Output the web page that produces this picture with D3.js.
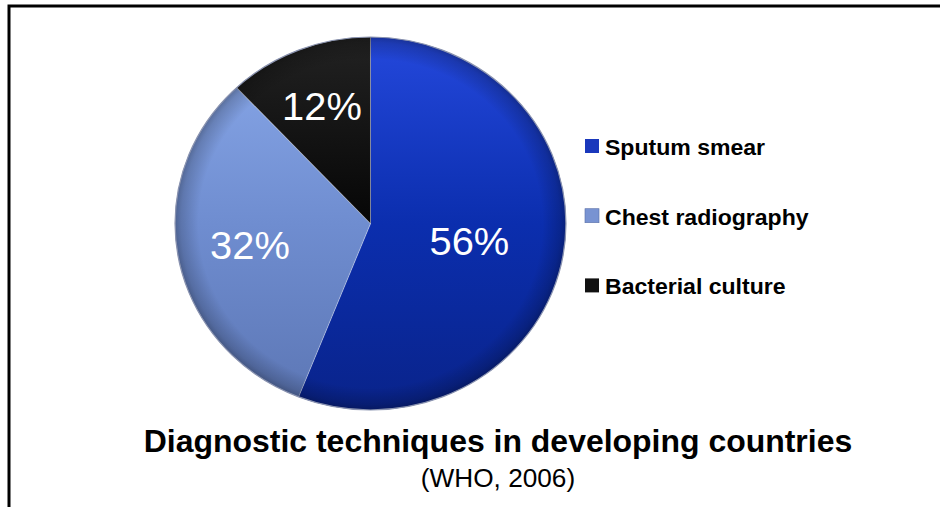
<!DOCTYPE html>
<html>
<head>
<meta charset="utf-8">
<script src="https://cdn.jsdelivr.net/npm/d3@7"></script>
<style>
  html, body { margin: 0; padding: 0; background: #fff; }
  svg { display: block; font-family: "Liberation Sans", Arial, sans-serif; }
</style>
</head>
<body>
<svg id="chart" width="940" height="507"></svg>
<script>
// ---- data ----
const categories = ["Sputum smear", "Chest radiography", "Bacterial culture"];
const legendLabels = ["Sputum smear", "Chest radiography", "Bacterial culture"];
const values = [56, 32, 12];
const valueLabels = ["56%", "32%", "12%"];
const titleText = "Diagnostic techniques in developing countries";
const subtitleText = "(WHO, 2006)";

// ---- layout / style ----
const W = 940, H = 507;
const SX = 1.048;               // horizontal stretch of the original picture
const cx = 370.5 / SX, cy = 223.5, R = 186.5;
const labelRadius = [0.515, 0.628, 0.675];
const gradStops = [
  ["#2448dc", "#0b2eae", "#09238a"],
  ["#8aa9ea", "#6f8dd0", "#5c76b4"],
  ["#222222", "#060606", "#000000"]
];
const legendColors = ["#1a38bc", "#7893d2", "#111111"];

const svg = d3.select("#chart");
const defs = svg.append("defs");

gradStops.forEach((st, i) => {
  const g = defs.append("linearGradient")
    .attr("id", "g" + i)
    .attr("gradientUnits", "userSpaceOnUse")
    .attr("x1", 0).attr("x2", 0)
    .attr("y1", -R).attr("y2", R);
  g.append("stop").attr("offset", 0).attr("stop-color", st[0]);
  g.append("stop").attr("offset", 0.5).attr("stop-color", st[1]);
  g.append("stop").attr("offset", 1).attr("stop-color", st[2]);
});
const rg = defs.append("radialGradient").attr("id", "rim");
rg.append("stop").attr("offset", 0.88).attr("stop-color", "#000").attr("stop-opacity", 0);
rg.append("stop").attr("offset", 0.97).attr("stop-color", "#000").attr("stop-opacity", 0.18);
rg.append("stop").attr("offset", 1).attr("stop-color", "#000").attr("stop-opacity", 0.3);

// border (top and left only)
svg.append("path")
  .attr("d", `M9,${H} V6 H${W}`)
  .attr("fill", "none")
  .attr("stroke", "#000")
  .attr("stroke-width", 3);

const root = svg.append("g").attr("transform", `scale(${SX},1)`);

// ---- pie ----
const pie = d3.pie().sort(null).value(d => d);
const arcs = pie(values);
const arc = d3.arc().innerRadius(0).outerRadius(R);

const pg = root.append("g").attr("transform", `translate(${cx},${cy})`);

pg.selectAll("path.slice")
  .data(arcs)
  .join("path")
  .attr("class", "slice")
  .attr("d", arc)
  .attr("fill", (d, i) => `url(#g${i})`)
  .attr("stroke", "rgba(255,255,255,0.25)")
  .attr("stroke-width", 1);

pg.append("circle")
  .attr("r", R)
  .attr("fill", "url(#rim)")
  .attr("stroke", "#8a93b0")
  .attr("stroke-width", 1.2);

pg.selectAll("text.pct")
  .data(arcs)
  .join("text")
  .attr("class", "pct")
  .attr("x", (d, i) => Math.sin((d.startAngle + d.endAngle) / 2) * R * labelRadius[i])
  .attr("y", (d, i) => -Math.cos((d.startAngle + d.endAngle) / 2) * R * labelRadius[i])
  .attr("dy", "0.36em")
  .attr("text-anchor", "middle")
  .attr("fill", "#fff")
  .attr("font-size", 38)
  .text((d, i) => valueLabels[i]);

// ---- legend ----
const lg = root.append("g");
const legendX = 585 / SX, textX = 605 / SX, firstBase = 155, rowStep = 69.7, sq = 14;
const rows = lg.selectAll("g.row")
  .data(legendLabels)
  .join("g")
  .attr("class", "row")
  .attr("transform", (d, i) => `translate(0,${firstBase + i * rowStep})`);
rows.append("rect")
  .attr("x", legendX).attr("y", -16)
  .attr("width", sq / SX).attr("height", sq)
  .attr("fill", (d, i) => legendColors[i])
  .attr("stroke", (d, i) => i === 1 ? "#5a70a8" : "none")
  .attr("stroke-width", 0.6);
rows.append("text")
  .attr("x", textX).attr("y", 0)
  .attr("font-size", 22)
  .attr("font-weight", "bold")
  .attr("fill", "#000")
  .text(d => d);

// ---- title ----
root.append("text")
  .attr("x", 498 / SX).attr("y", 452)
  .attr("text-anchor", "middle")
  .attr("font-size", 30.5)
  .attr("font-weight", "bold")
  .attr("fill", "#000")
  .text(titleText);
root.append("text")
  .attr("x", 498 / SX).attr("y", 487)
  .attr("text-anchor", "middle")
  .attr("font-size", 25)
  .attr("fill", "#000")
  .text(subtitleText);
</script>
</body>
</html>
